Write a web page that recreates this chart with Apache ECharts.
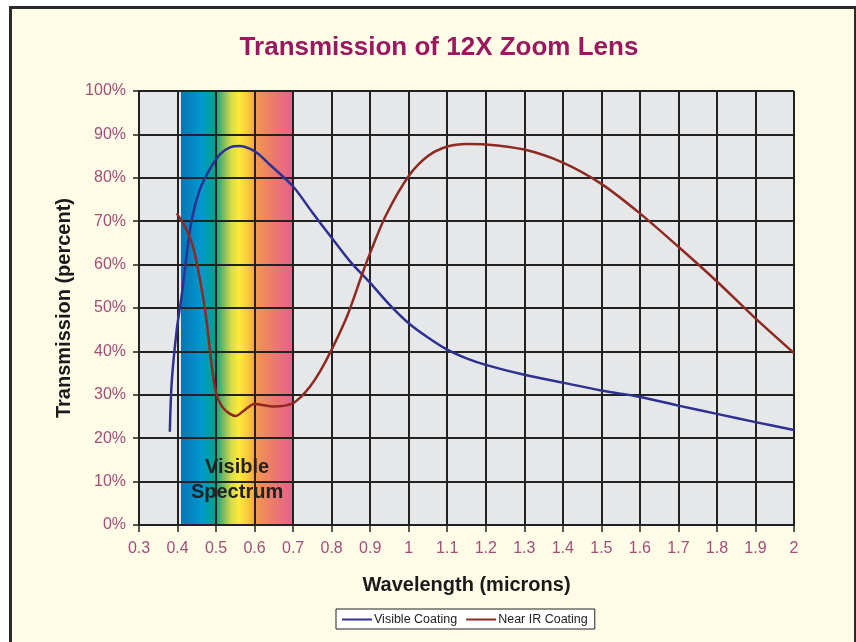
<!DOCTYPE html>
<html>
<head>
<meta charset="utf-8">
<script src="https://cdn.jsdelivr.net/npm/echarts@6/dist/echarts.min.js"></script>
<style>
html,body{margin:0;padding:0;background:#ffffff;}
#frame{position:absolute;left:9px;top:6px;width:842px;height:650px;border:3px solid #2a2a2a;background:#fefbe6;box-sizing:content-box;}
#chart{position:absolute;left:0;top:0;width:856px;height:642px;}
</style>
</head>
<body>
<div id="frame"></div>
<div id="chart"></div>
<script>
// Tick definitions
var xMin = 0.3, xMax = 2.0, xStep = 0.1;
var yMin = 0, yMax = 100, yStep = 10;

// Visible spectrum band (microns)
var spectrumRange = [0.409, 0.7];

// Visible Coating
var visibleX = [0.38, 0.385, 0.398, 0.411, 0.42, 0.437, 0.458, 0.484, 0.51, 0.536, 0.562, 0.59, 0.61, 0.64, 0.7, 0.75, 0.8, 0.85, 0.9, 0.95, 1.0, 1.05, 1.1, 1.15, 1.2, 1.3, 1.4, 1.5, 1.6, 1.7, 1.8, 1.9, 2.0];
var visibleY = [21.5, 33, 45, 53, 59.6, 70.4, 77.3, 82, 85.4, 87, 87.3, 86.6, 85.5, 83, 78, 72, 66.2, 60.5, 55.8, 50.8, 46.5, 43.2, 40.4, 38.4, 36.9, 34.6, 32.8, 31, 29.5, 27.5, 25.6, 23.7, 21.9];

// Near IR Coating
var nearIrX = [0.398, 0.419, 0.437, 0.45, 0.463, 0.475, 0.488, 0.5, 0.519, 0.551, 0.57, 0.6, 0.65, 0.696, 0.72, 0.744, 0.77, 0.8, 0.84, 0.88, 0.9, 0.94, 1.0, 1.05, 1.1, 1.15, 1.2, 1.3, 1.4, 1.5, 1.6, 1.7, 1.8, 1.9, 2.0];
var nearIrY = [71.8, 68.8, 65, 60.4, 54.2, 47.3, 37.3, 30.5, 26.9, 25.1, 26.2, 27.9, 27.3, 27.9, 29.5, 31.9, 35.4, 40.4, 48.1, 58, 62.7, 71.2, 80.4, 85, 87.2, 87.8, 87.7, 86.5, 83.5, 78.6, 71.8, 64.1, 56.1, 47.6, 39.6];

function zip(xs, ys) { return xs.map(function (x, i) { return [x, ys[i]]; }); }

var chart = echarts.init(document.getElementById('chart'), null, {renderer: 'canvas'});
var labelColor = '#a0507a';
var font = 'Liberation Sans, Arial, sans-serif';
var option = {
  backgroundColor: 'transparent',
  animation: false,
  title: {
    text: 'Transmission of 12X Zoom Lens',
    left: 434, top: 30, textAlign: 'center',
    textStyle: {color: '#9b1760', fontSize: 26, fontWeight: 'bold', fontFamily: font}
  },
  legend: {
    data: ['Visible Coating', 'Near IR Coating'],
    left: 336, top: 609,
    backgroundColor: '#ffffff', borderColor: '#222', borderWidth: 1,
    padding: [4, 7, 3, 6], itemGap: 9, itemWidth: 30, itemHeight: 2,
    icon: 'rect',
    textStyle: {color: '#222', fontSize: 12.5, fontFamily: font, padding: [0, 0, 0, -3]}
  },
  grid: {left: 139, right: 62, top: 91, bottom: 117, show: true, backgroundColor: '#e6e7e9', borderWidth: 0},
  xAxis: {
    type: 'value', min: xMin, max: xMax, interval: xStep, z: 3,
    name: 'Wavelength (microns)', nameLocation: 'middle', nameGap: 50,
    nameTextStyle: {color: '#1a1a1a', fontSize: 20, fontWeight: 'bold', fontFamily: font},
    axisLine: {show: true, lineStyle: {color: '#222', width: 2}},
    axisTick: {show: true, length: 7, lineStyle: {color: '#222', width: 1.5}},
    axisLabel: {color: labelColor, fontSize: 16, margin: 16, fontFamily: font,
      formatter: function (v) { return String(+v.toFixed(1)); }},
    splitLine: {show: true, lineStyle: {color: '#222', width: 2}}
  },
  yAxis: {
    type: 'value', min: yMin, max: yMax, interval: yStep, z: 3,
    name: 'Transmission (percent)', nameLocation: 'middle', nameGap: 64, nameRotate: 90,
    nameTextStyle: {color: '#1a1a1a', fontSize: 20, fontWeight: 'bold', fontFamily: font},
    axisLine: {show: true, lineStyle: {color: '#222', width: 2}},
    axisTick: {show: true, length: 6, lineStyle: {color: '#222', width: 1.5}},
    axisLabel: {color: labelColor, fontSize: 16, margin: 13, fontFamily: font, formatter: '{value}%'},
    splitLine: {show: true, lineStyle: {color: '#222', width: 2}}
  },
  series: [
    {
      type: 'line', data: [], z: 1, silent: true,
      markArea: {
        silent: true,
        itemStyle: {
          color: new echarts.graphic.LinearGradient(0, 0, 1, 0, [
            {offset: 0, color: '#0a74b3'},
            {offset: 0.18, color: '#0098cf'},
            {offset: 0.3, color: '#00a28c'},
            {offset: 0.36, color: '#5db36a'},
            {offset: 0.45, color: '#d9dc48'},
            {offset: 0.52, color: '#ffea3a'},
            {offset: 0.6, color: '#f8c640'},
            {offset: 0.68, color: '#f09553'},
            {offset: 0.82, color: '#ec7a6c'},
            {offset: 1, color: '#e6608e'}
          ])
        },
        label: {
          show: true, position: 'insideBottom', distance: 20,
          formatter: 'Visible\nSpectrum', color: '#222', fontSize: 20, fontWeight: 'bold', lineHeight: 25,
          fontFamily: font
        },
        data: [[{xAxis: spectrumRange[0], yAxis: yMin}, {xAxis: spectrumRange[1], yAxis: yMax}]]
      }
    },
    {
      name: 'Visible Coating', type: 'line', z: 5, smooth: 0.3, showSymbol: false,
      color: '#2e3192', lineStyle: {color: '#2e3192', width: 2.5},
      data: zip(visibleX, visibleY)
    },
    {
      name: 'Near IR Coating', type: 'line', z: 5, smooth: 0.3, showSymbol: false,
      color: '#8e2a22', lineStyle: {color: '#8e2a22', width: 2.5},
      data: zip(nearIrX, nearIrY)
    }
  ]
};
chart.setOption(option);
</script>
</body>
</html>
